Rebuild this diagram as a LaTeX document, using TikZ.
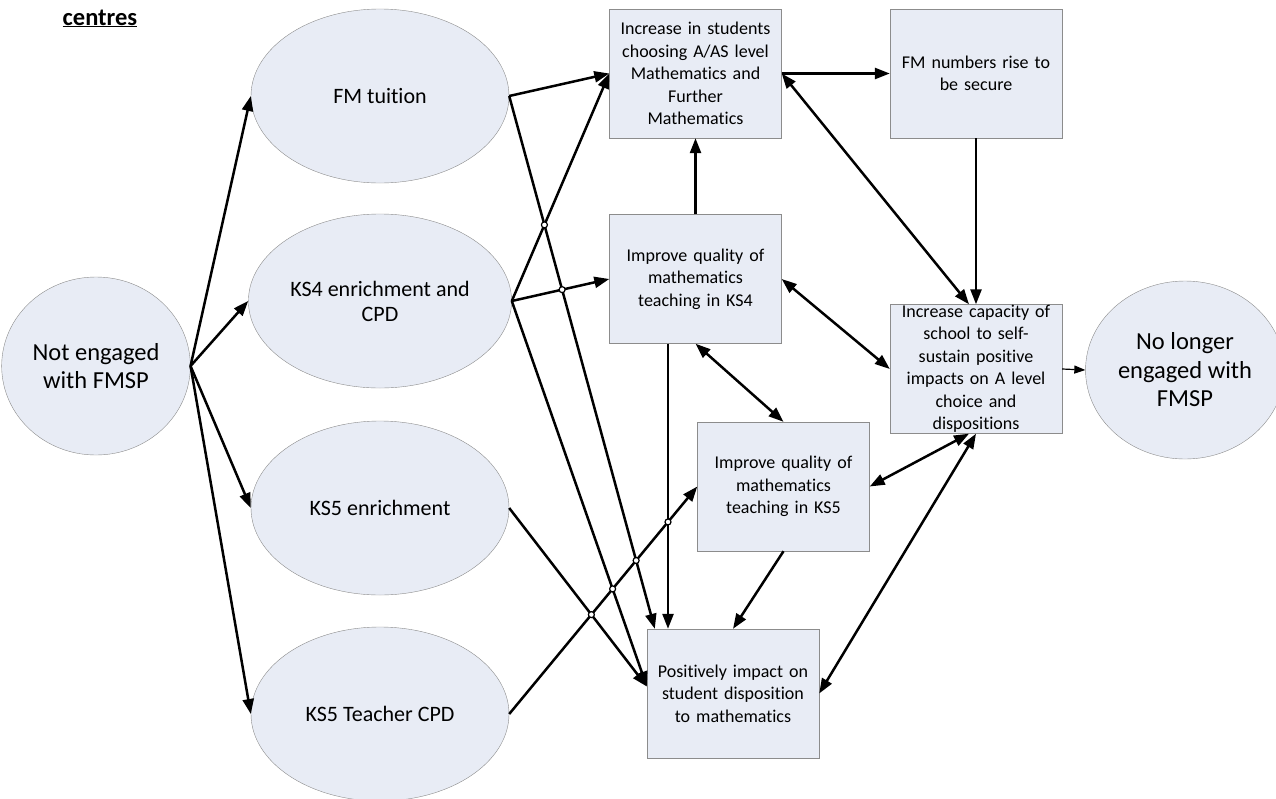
\documentclass[tikz,border=0pt]{standalone}
\usepackage{fontspec}
\setmainfont{Carlito}[Ligatures=NoCommon]
\usetikzlibrary{shapes.geometric,
                arrows.meta,
                positioning,
                intersections}
\definecolor{nodefill}{RGB}{232,236,245}
\definecolor{nodeline}{RGB}{140,140,140}
\tikzset{activity/.style=
   {ellipse,
    draw=nodeline,
    fill=nodefill,
    align=center,
    minimum width=258pt,
    minimum height=174pt,
    font=\fontsize{22}{25}\selectfont}}
\tikzset{engage/.style=
   {ellipse,
    draw=nodeline,
    fill=nodefill,
    align=center,
    minimum width=178pt,
    minimum height=178pt,
    font=\fontsize{24.5}{28.5}\selectfont}}
\tikzset{outcome/.style=
   {rectangle,
    draw=nodeline,
    fill=nodefill,
    text width=160pt,
    align=center,
    inner xsep=6pt,
    minimum height=129pt,
    font=\fontsize{18}{22.5}\selectfont}}
\tikzset{arrow/.style = {draw, line width=2.5pt, -{Triangle[length=15pt,width=11pt]}}}
\tikzset{twoway/.style = {draw, line width=2.5pt, {Triangle[length=15pt,width=11pt]}-{Triangle[length=15pt,width=11pt]}}}
\tikzset{thinarrow/.style = {draw, line width=1.2pt, -{Triangle[length=11pt,width=8pt]}}}
\tikzset{jump/.style = {draw, fill=white, line width=1.2pt}}

\begin{document}
\begin{tikzpicture}[x=1pt, y=-1pt]

    \useasboundingbox (0,0) rectangle (1276,798);

    \node [font=\fontsize{24.5}{29}\selectfont\bfseries,
           anchor=base] (title) at (100,25) {\underline{centres}};

    \node [engage] (notengaged) at (96,366) {Not engaged\\with FMSP};
    \node [engage] (nolonger) at (1185,370) {No longer\\engaged with\\FMSP};

    \node [activity] (fmtuition) at (380,96) {FM tuition};
    \node [activity] (ks4enrich) at (380,301) {KS4 enrichment and\\CPD};
    \node [activity] (ks5enrich) at (380,508) {KS5 enrichment};
    \node [activity] (ks5cpd) at (380,714) {KS5 Teacher CPD};

    \node [outcome] (increase) at (695.5,73.5)
    {Increase in students\\choosing A/AS level\\Mathematics and\\Further\\Mathematics};
    \node [outcome] (fmnumbers) at (976,73.5)
    {FM numbers rise to\\be secure};
    \node [outcome] (qualks4) at (695.5,279)
    {Improve quality of\\mathematics\\teaching in KS4};
    \node [outcome] (qualks5) at (783.5,486.5)
    {Improve quality of\\mathematics\\teaching in KS5};
    \node [outcome] (disposition) at (733,693.5)
    {Positively impact on\\student disposition\\to mathematics};
    \node [outcome,
           inner ysep=0pt] (capacity) at (976,369)
    {Increase capacity of\\school to self-\\sustain positive\\impacts on A level\\choice and\\dispositions};

    \draw [arrow] (notengaged.east) -- (fmtuition.west);
    \draw [arrow] (notengaged.east) -- (ks4enrich.west);
    \draw [arrow] (notengaged.east) -- (ks5enrich.west);
    \draw [arrow] (notengaged.east) -- (ks5cpd.west);

    \draw [arrow] (fmtuition.east) -- (increase.west);
    \draw [arrow, name path=fmdisp] (fmtuition.east) -- ([xshift=8pt]disposition.north west);
    \draw [arrow, name path=ks4incr] (ks4enrich.east) -- (increase.west);
    \draw [arrow, name path=ks4qual] (ks4enrich.east) -- (qualks4.west);
    \draw [arrow, name path=ks4disp] (ks4enrich.east) -- ([yshift=7pt]disposition.west);
    \draw [arrow, name path=ks5disp] (ks5enrich.east) -- ([yshift=7pt]disposition.west);
    \draw [arrow, name path=cpdqual] (ks5cpd.east) -- (qualks5.west);

    \draw [arrow] (increase.east) -- (fmnumbers.west);
    \draw [arrow] (fmnumbers.south) -- (capacity.north);
    \draw [twoway] (increase.east) -- ([xshift=-7pt]capacity.north);
    \draw [arrow] (qualks4.north) -- (increase.south);
    \draw [twoway] (qualks4.east) -- (capacity.west);
    \draw [twoway] (qualks4.south) -- (qualks5.north);
    \draw [arrow, name path=qualdisp] ([xshift=-27.5pt]qualks4.south) -- ([xshift=-27.5pt]qualks4.south |- disposition.north);
    \draw [arrow] (qualks5.south) -- (disposition.north);
    \draw [twoway] (qualks5.east) -- ([xshift=-7pt]capacity.south);
    \draw [twoway] (disposition.east) -- (capacity.south);
    \draw [thinarrow] (capacity.east) -- (nolonger.west);

    \path [name intersections={of=cpdqual and ks5disp, by=hop1}];
    \path [name intersections={of=cpdqual and ks4disp, by=hop2}];
    \path [name intersections={of=cpdqual and fmdisp, by=hop3}];
    \path [name intersections={of=cpdqual and qualdisp, by=hop4}];
    \path [name intersections={of=ks4incr and fmdisp, by=hop5}];
    \path [name intersections={of=ks4qual and fmdisp, by=hop6}];
    \foreach \n in {1,...,6}
        \draw [jump] (hop\n) circle (3pt);

\end{tikzpicture}
\end{document}
